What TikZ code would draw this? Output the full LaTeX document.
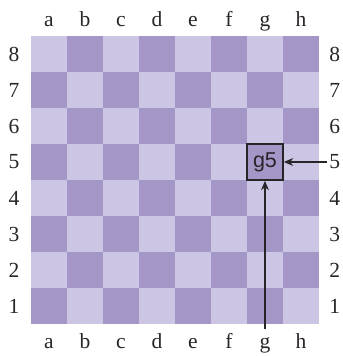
\documentclass[tikz,border=0pt]{standalone}
\usepackage{fontspec}
\setmainfont{Liberation Serif}
\setsansfont{Liberation Sans}
\usepackage{tikz}
\usetikzlibrary{arrows.meta}
\definecolor{sqlight}{RGB}{204,197,228}
\definecolor{sqdark}{RGB}{164,151,200}
\definecolor{inkgray}{RGB}{40,36,40}

\begin{document}
\begin{tikzpicture}[
  x=1cm, y=1cm,
  lbl/.style={font=\fontsize{17}{20}\selectfont, text=inkgray, inner sep=0pt},
  target/.style={draw=inkgray, line width=1.4pt, minimum size=1cm, inner sep=0pt,
    font=\sffamily\fontsize{17}{19}\selectfont, text=inkgray},
  arr/.style={-{Stealth[length=2.6mm, width=2.2mm]}, line width=0.9pt, draw=inkgray}
]
\useasboundingbox (-0.861,-0.889) rectangle (8.667,9.0);

% board
\foreach \c in {0,...,7}
  \foreach \r in {0,...,7} {
    \pgfmathtruncatemacro{\parity}{mod(\c+\r,2)}
    \ifnum\parity=0
      \fill[sqdark] (\c,\r) rectangle ++(1,1);
    \else
      \fill[sqlight] (\c,\r) rectangle ++(1,1);
    \fi
  }

% files and ranks
\foreach \f [count=\i from 0] in {a,b,c,d,e,f,g,h} {
  \node[lbl, anchor=base] (top-\f) at (\i+0.5,8.25) {\f};
  \node[lbl, anchor=base] (bot-\f) at (\i+0.5,-0.67) {\f};
}
\foreach \n in {1,...,8} {
  \node[lbl] (left-\n) at (-0.47,\n-0.5) {\n};
  \node[lbl] (right-\n) at (8.44,\n-0.5) {\n};
}

\node[target] (g5) at (6.5,4.5) {g5};
\coordinate (fromright) at (8.22,4.5);
\coordinate (frombelow) at (6.5,-0.14);

\draw[arr] (fromright) -- (g5.east);
\draw[arr] (frombelow) -- (g5.south);
\end{tikzpicture}
\end{document}
